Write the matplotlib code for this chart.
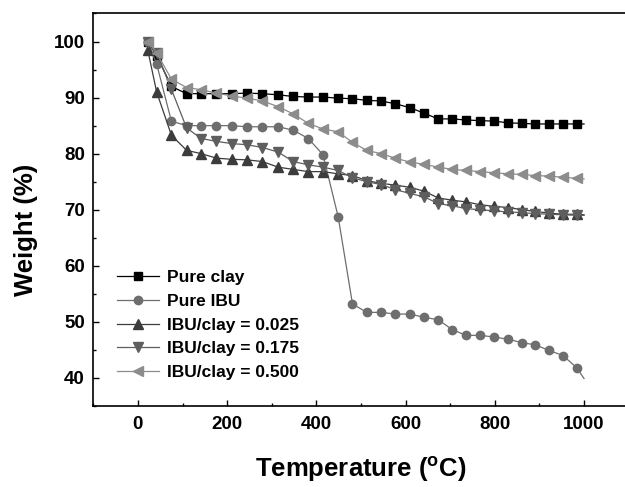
"""
TGA curves — weight loss of clay, ibuprofen (IBU) and IBU/clay hybrids.

Redraws the thermogravimetric plot and writes it to out.png.
"""
import matplotlib
matplotlib.use("Agg")   # headless
import matplotlib.pyplot as plt
from matplotlib.ticker import MultipleLocator


# ── Data ──────────────────────────────────────────────────────────────────────
# shared temperature grid of the markers; last point (1000 °C) carries no marker
temperature = [22, 42, 75, 109, 142, 176, 210, 244, 279, 314, 348, 382, 415,
               449, 481, 513, 545, 577, 610, 642, 673, 705, 736, 767, 799, 830,
               861, 891, 922, 953, 984, 1000]

pure_clay = [100.0, 97.5, 92.0, 90.7, 90.7, 90.7, 90.7, 90.8, 90.7, 90.5,
             90.2, 90.1, 90.1, 89.9, 89.8, 89.5, 89.4, 88.9, 88.2, 87.2,
             86.2, 86.2, 86.0, 85.9, 85.8, 85.5, 85.4, 85.3, 85.3, 85.3,
             85.3, 85.3]

pure_ibu = [100.0, 96.0, 85.8, 85.0, 85.0, 85.0, 85.0, 84.8, 84.8, 84.8,
            84.2, 82.7, 79.8, 68.7, 53.2, 51.7, 51.7, 51.4, 51.4, 50.8,
            50.4, 48.6, 47.6, 47.6, 47.3, 46.9, 46.3, 45.9, 44.9, 44.0,
            41.8, 39.9]

ibu_clay_0025 = [98.5, 91.0, 83.3, 80.6, 80.0, 79.2, 79.0, 78.9, 78.6, 77.6,
                 77.2, 76.8, 76.8, 76.4, 76.1, 75.2, 74.7, 74.4, 74.0, 73.3,
                 72.1, 71.7, 71.4, 70.9, 70.6, 70.4, 70.0, 69.7, 69.4, 69.2,
                 69.2, 69.1]

ibu_clay_0175 = [100.0, 98.0, 91.5, 84.6, 82.7, 82.2, 81.8, 81.6, 81.1, 80.3,
                 78.6, 78.0, 77.6, 77.0, 75.7, 75.0, 74.5, 73.6, 72.9, 72.3,
                 71.1, 70.7, 70.2, 70.0, 69.8, 69.6, 69.5, 69.3, 69.2, 69.1,
                 69.0, 69.0]

ibu_clay_0500 = [100.0, 98.0, 93.3, 91.8, 91.4, 90.8, 90.3, 89.9, 89.4, 88.4,
                 87.1, 85.4, 84.4, 83.9, 82.0, 80.6, 80.0, 79.2, 78.5, 78.1,
                 77.6, 77.2, 77.0, 76.8, 76.6, 76.4, 76.3, 76.1, 76.0, 75.8,
                 75.6, 75.5]

labels = ["Pure clay", "Pure IBU", "IBU/clay = 0.025", "IBU/clay = 0.175",
          "IBU/clay = 0.500"]


# ── Styling ───────────────────────────────────────────────────────────────────

plt.rcParams["font.family"] = ["Liberation Sans", "DejaVu Sans"]
plt.rcParams["font.weight"] = "bold"
plt.rcParams["mathtext.fontset"] = "custom"
plt.rcParams["mathtext.rm"] = "Liberation Sans:bold"
plt.rcParams["mathtext.default"] = "rm"

STYLES = [
    dict(marker="s", color="#000000", ms=5.5),
    dict(marker="o", color="#6e6e6e", ms=6.0),
    dict(marker="^", color="#3c3c3c", ms=7.0),
    dict(marker="v", color="#5e5e5e", ms=7.0),
    dict(marker="<", color="#8c8c8c", ms=7.0),
]


def main():
    fig = plt.figure(figsize=(6.25, 4.87), dpi=100)
    ax = fig.add_axes([0.1493, 0.1663, 0.8565, 0.806])

    series = [pure_clay, pure_ibu, ibu_clay_0025, ibu_clay_0175, ibu_clay_0500]
    n_marked = len(temperature) - 1
    for values, label, st in zip(series, labels, STYLES):
        ax.plot(temperature, values, color=st["color"], lw=0.9,
                marker=st["marker"], ms=st["ms"], mec=st["color"],
                mfc=st["color"], markevery=list(range(n_marked)), label=label)

    # ── Axes ──────────────────────────────────────────────────────────────
    ax.set_xlim(-100, 1100)
    ax.set_ylim(35, 105)
    ax.xaxis.set_major_locator(MultipleLocator(200))
    ax.xaxis.set_minor_locator(MultipleLocator(100))
    ax.yaxis.set_major_locator(MultipleLocator(10))
    ax.yaxis.set_minor_locator(MultipleLocator(5))
    ax.tick_params(which="both", direction="in", width=1.0, labelsize=13.5)
    ax.tick_params(which="major", length=4.5)
    ax.tick_params(which="minor", length=2.5)
    ax.tick_params(axis="x", pad=7)
    ax.tick_params(axis="y", pad=6)
    for sp in ax.spines.values():
        sp.set_linewidth(1.2)

    ax.set_xlabel(r"Temperature ($^\mathrm{o}$C)", fontsize=18.5,
                  fontweight="bold")
    ax.set_ylabel("Weight (%)", fontsize=18.5, fontweight="bold")
    ax.xaxis.set_label_coords(0.5, -0.125)
    ax.yaxis.set_label_coords(-0.103, 0.448)

    ax.legend(loc="upper left", bbox_to_anchor=(0.045, 0.347), frameon=False,
              fontsize=12.5, handlelength=2.4, handletextpad=0.45,
              labelspacing=0.5, borderpad=0, borderaxespad=0)

    fig.savefig("out.png", dpi=100)
    plt.close(fig)


if __name__ == "__main__":
    main()
